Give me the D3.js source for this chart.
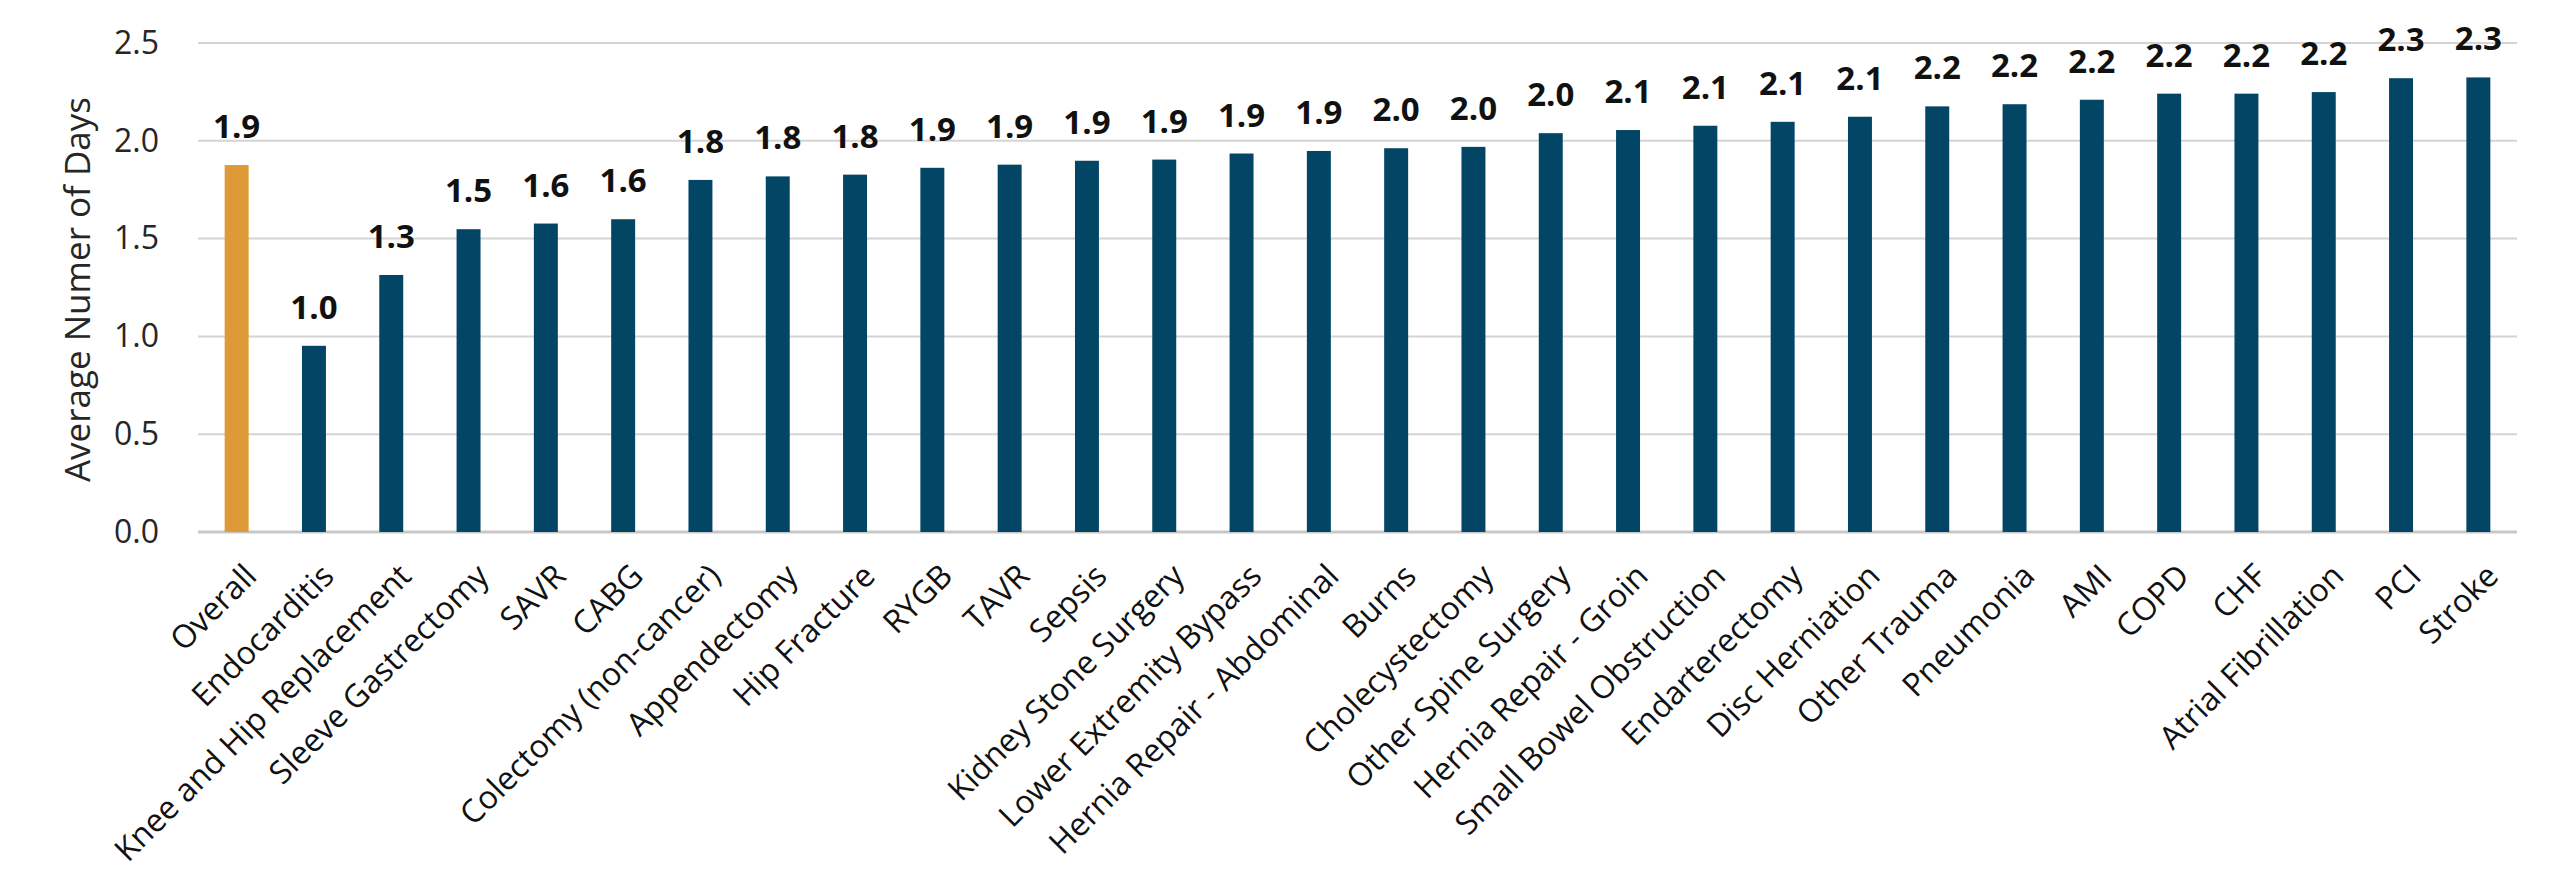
<!DOCTYPE html>
<html>
<head>
<meta charset="utf-8">
<script src="https://cdn.jsdelivr.net/npm/d3@7"></script>
<style>
  html, body { margin: 0; padding: 0; background: #fff; }
  text { font-family: "Open Sans", "Noto Sans", sans-serif; }
</style>
</head>
<body>
<div id="chart"></div>
<script>
const categories = [
  "Overall", "Endocarditis", "Knee and Hip Replacement", "Sleeve Gastrectomy", "SAVR", "CABG",
  "Colectomy (non-cancer)", "Appendectomy", "Hip Fracture", "RYGB", "TAVR", "Sepsis",
  "Kidney Stone Surgery", "Lower Extremity Bypass", "Hernia Repair - Abdominal", "Burns",
  "Cholecystectomy", "Other Spine Surgery", "Hernia Repair - Groin", "Small Bowel Obstruction",
  "Endarterectomy", "Disc Herniation", "Other Trauma", "Pneumonia", "AMI", "COPD", "CHF",
  "Atrial Fibrillation", "PCI", "Stroke"
];
const avgDays = [
  1.876, 0.952, 1.314, 1.548, 1.577, 1.599, 1.800, 1.818, 1.827, 1.862, 1.878, 1.898,
  1.904, 1.935, 1.948, 1.962, 1.969, 2.039, 2.055, 2.077, 2.097, 2.123, 2.176, 2.187,
  2.210, 2.241, 2.241, 2.249, 2.320, 2.324
];
const yTicks = [0, 0.5, 1.0, 1.5, 2.0, 2.5];

const data = categories.map((c, i) => ({ name: c, value: avgDays[i] }));

const W = 2560, H = 885;
const margin = { top: 43, right: 43, bottom: 353, left: 198 };

const svg = d3.select("#chart").append("svg")
    .attr("width", W)
    .attr("height", H);

const x = d3.scaleBand()
    .domain(categories)
    .range([margin.left, W - margin.right])
    .paddingInner(0.69)
    .paddingOuter(0.345);

const y = d3.scaleLinear()
    .domain([0, 2.5])
    .range([H - margin.bottom, margin.top]);

// gridlines
svg.append("g")
  .selectAll("line")
  .data(yTicks)
  .enter().append("line")
    .attr("x1", margin.left)
    .attr("x2", W - margin.right)
    .attr("y1", d => y(d))
    .attr("y2", d => y(d))
    .attr("stroke", d => d === 0 ? "#c8c8c8" : "#d4d4d4")
    .attr("stroke-width", d => d === 0 ? 3 : 2);

// y axis labels
const yAxis = svg.append("g")
    .attr("transform", "translate(" + margin.left + ",0)")
    .call(d3.axisLeft(y).tickValues(yTicks).tickFormat(d3.format(".1f")).tickSize(0).tickPadding(39));
yAxis.select(".domain").remove();
yAxis.selectAll("text")
    .style("font-size", "32px")
    .style("font-family", "'Open Sans', sans-serif")
    .attr("fill", "#262626");

// bars
svg.selectAll(".bar")
  .data(data)
  .enter().append("rect")
    .attr("class", "bar")
    .attr("x", d => x(d.name))
    .attr("width", x.bandwidth())
    .attr("y", d => y(d.value))
    .attr("height", d => y(0) - y(d.value))
    .attr("fill", (d, i) => i === 0 ? "#DE9A36" : "#024565");

// value labels
svg.selectAll(".val")
  .data(data)
  .enter().append("text")
    .attr("class", "val")
    .attr("x", d => x(d.name) + x.bandwidth() / 2)
    .attr("y", d => y(d.value) - 27)
    .attr("text-anchor", "middle")
    .style("font-size", "33px")
    .style("font-weight", "bold")
    .attr("fill", "#111")
    .text(d => d3.format(".1f")(d.value));

// category labels
svg.selectAll(".cat")
  .data(data)
  .enter().append("text")
    .attr("class", "cat")
    .attr("transform", d => "translate(" + (x(d.name) + x.bandwidth() / 2 + 14) + "," + (y(0) + 38) + ") rotate(-45)")
    .attr("text-anchor", "end")
    .attr("dy", "0.35em")
    .style("font-size", "32px")
    .attr("fill", "#111")
    .text(d => d.name);

// y axis title
svg.append("text")
    .attr("transform", "rotate(-90)")
    .attr("x", -(margin.top + (H - margin.bottom)) / 2 - 2)
    .attr("y", 90)
    .attr("text-anchor", "middle")
    .style("font-size", "35px")
    .attr("fill", "#262626")
    .text("Average Numer of Days");
</script>
</body>
</html>
